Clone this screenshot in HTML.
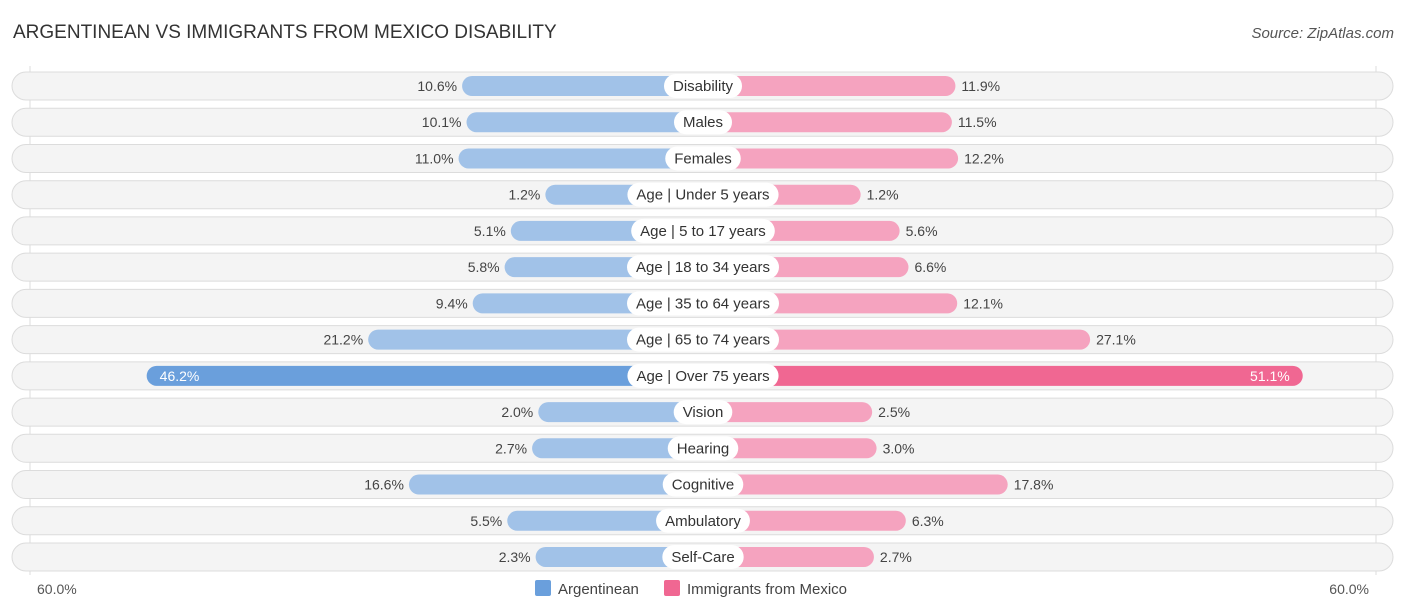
<!DOCTYPE html>
<html><head><meta charset="utf-8"><style>
body{margin:0;width:1406px;height:612px;background:#fff;font-family:"Liberation Sans",sans-serif;overflow:hidden;position:relative}
.t{position:absolute;white-space:nowrap}
</style></head><body>
<div class="t" style="left:13px;top:22px;font-size:19px;color:#333">ARGENTINEAN VS IMMIGRANTS FROM MEXICO DISABILITY</div>
<div class="t" style="right:12px;top:25px;font-size:15px;color:#555;font-style:italic">Source: ZipAtlas.com</div>
<svg id="c" width="1406" height="612" style="position:absolute;left:0;top:0"></svg>
<script>
const categories=["Disability","Males","Females","Age | Under 5 years","Age | 5 to 17 years","Age | 18 to 34 years","Age | 35 to 64 years","Age | 65 to 74 years","Age | Over 75 years","Vision","Hearing","Cognitive","Ambulatory","Self-Care"];
const argentinean=[10.6,10.1,11.0,1.2,5.1,5.8,9.4,21.2,46.2,2.0,2.7,16.6,5.5,2.3];
const mexico=[11.9,11.5,12.2,1.2,5.6,6.6,12.1,27.1,51.1,2.5,3.0,17.8,6.3,2.7];
const axisLabels=["60.0%","60.0%"];
const svg=document.getElementById('c');const NS="http://www.w3.org/2000/svg";
const cx=703,base=147,scale=8.86;
function xL(v){return cx-base-v*scale;}function xR(v){return cx+base+v*scale;}
function rowY(i){return 86+i*36.23;}
function mk(t,a,p){const e=document.createElementNS(NS,t);for(const k in a)e.setAttribute(k,a[k]);(p||svg).appendChild(e);return e;}
[30,1376].forEach(x=>{const l=mk('line',{x1:x,x2:x,y1:66,y2:575,stroke:'#ddd','stroke-width':1});

});
categories.forEach((c,i)=>{
 const y=rowY(i);
 const g=mk('g',{});
 
 
 mk('rect',{x:12,y:y-14,width:1381,height:28,rx:14,fill:'#f4f4f4',stroke:'#dcdcdc','stroke-width':1},g);
 const big=argentinean[i]>30||mexico[i]>30;
 const a=argentinean[i],m=mexico[i];
 const bl=mk('rect',{x:xL(a),y:y-10,width:cx-xL(a),height:20,rx:10,fill:a>30?'#6a9fdc':'#a1c2e8'},g);
 
 
 const br=mk('rect',{x:cx,y:y-10,width:xR(m)-cx,height:20,rx:10,fill:m>30?'#f06792':'#f5a3bf'},g);
 
 
 const lab=mk('text',{x:cx,y:y+5,'text-anchor':'middle','font-size':15,fill:'#333'},g);lab.textContent=c;
 const w=lab.getComputedTextLength?lab.getComputedTextLength():c.length*8;
 const pill=mk('rect',{x:cx-w/2-9,y:y-12,width:w+18,height:24,rx:12,fill:'#fff'},g);
 g.insertBefore(pill,lab);
 
 
 const va=mk('text',{x:a>30?xL(a)+13:xL(a)-5,y:y+5,'text-anchor':a>30?'start':'end','font-size':14,fill:a>30?'#fff':'#444'},g);va.textContent=a.toFixed(1)+'%';
 
 
 const vm=mk('text',{x:m>30?xR(m)-13:xR(m)+6,y:y+5,'text-anchor':m>30?'end':'start','font-size':14,fill:m>30?'#fff':'#444'},g);vm.textContent=m.toFixed(1)+'%';
 
 
});
const t1=mk('text',{x:37,y:594,'font-size':14,fill:'#555'});t1.textContent=axisLabels[0];


const t2=mk('text',{x:1369,y:594,'font-size':14,fill:'#555','text-anchor':'end'});t2.textContent=axisLabels[1];


const lg1=mk('rect',{x:535,y:580,width:16,height:16,rx:2,fill:'#6a9fdc'});


const lt1=mk('text',{x:558,y:594,'font-size':15,fill:'#444'});lt1.textContent='Argentinean';


const lg2=mk('rect',{x:664,y:580,width:16,height:16,rx:2,fill:'#f06792'});


const lt2=mk('text',{x:687,y:594,'font-size':15,fill:'#444'});lt2.textContent='Immigrants from Mexico';


</script>
</body></html>
